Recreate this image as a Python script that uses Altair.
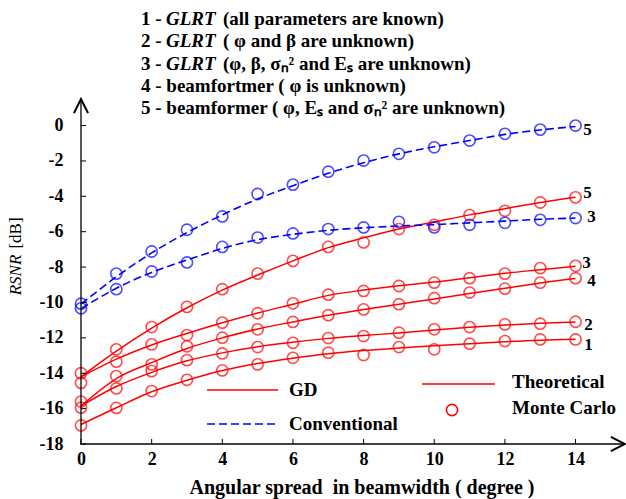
import altair as alt
import pandas as pd

# ---------------- data ----------------
XS = list(range(15))

# Theoretical curves (GD, red solid)
GD1_TH = [-16.9, -15.95, -15.05, -14.4, -13.85, -13.45, -13.15, -12.9, -12.72, -12.58, -12.45, -12.33, -12.22, -12.13, -12.08]
GD2_TH = [-15.85, -14.75, -13.95, -13.3, -12.85, -12.5, -12.25, -12.03, -11.87, -11.72, -11.55, -11.4, -11.28, -11.18, -11.1]
GD3_TH = [-14.2, -13.2, -12.4, -11.75, -11.15, -10.6, -10.1, -9.6, -9.3, -9.05, -8.85, -8.6, -8.35, -8.15, -7.95]
GD4_TH = [-15.85, -14.3, -13.4, -12.6, -12.0, -11.5, -11.1, -10.72, -10.4, -10.1, -9.8, -9.5, -9.2, -8.9, -8.65]
GD5_TH = [-14.2, -12.75, -11.45, -10.3, -9.3, -8.45, -7.65, -6.9, -6.35, -5.85, -5.45, -5.05, -4.7, -4.35, -4.05]
# Theoretical curves (Conventional, blue dashed)
CV3_TH = [-10.35, -9.2, -8.3, -7.6, -6.95, -6.45, -6.15, -5.92, -5.78, -5.68, -5.6, -5.5, -5.4, -5.3, -5.23]
CV5_TH = [-10.1, -8.55, -7.2, -6.05, -5.05, -4.15, -3.4, -2.7, -2.1, -1.6, -1.2, -0.85, -0.5, -0.25, -0.05]

# Monte Carlo points
GD1_MC = [-16.95, -15.96, -15.01, -14.37, -13.84, -13.5, -13.13, -12.84, -12.97, -12.52, -12.65, -12.33, -12.18, -12.09, -12.09]
GD2_MC = [-15.95, -14.86, -13.88, -13.26, -12.88, -12.52, -12.28, -12.01, -11.9, -11.71, -11.52, -11.39, -11.24, -11.2, -11.09]
GD3_MC = [-14.55, -13.35, -12.37, -11.84, -11.14, -10.61, -10.05, -9.56, -9.35, -9.07, -8.88, -8.63, -8.37, -8.06, -7.93]
GD4_MC = [-15.6, -14.16, -13.5, -12.48, -11.99, -11.52, -11.1, -10.72, -10.39, -10.1, -9.76, -9.44, -9.22, -8.88, -8.63]
GD5_MC = [-14.0, -12.65, -11.39, -10.25, -9.25, -8.37, -7.65, -6.86, -6.61, -5.85, -5.61, -5.06, -4.82, -4.35, -4.06]
CV3_MC = [-10.33, -9.25, -8.25, -7.74, -6.86, -6.33, -6.10, -5.85, -5.76, -5.44, -5.76, -5.61, -5.50, -5.33, -5.23]
CV5_MC = [-10.07, -8.37, -7.12, -5.89, -5.14, -3.87, -3.34, -2.61, -1.98, -1.60, -1.23, -0.85, -0.47, -0.23, 0.0]

X_TICKS = [0, 2, 4, 6, 8, 10, 12, 14]
Y_TICKS = [0, -2, -4, -6, -8, -10, -12, -14, -16, -18]

LEGEND_LINES = [
    ("1 - ", "GLRT", "(all parameters are known)"),
    ("2 - ", "GLRT", "( \u03c6 and \u03b2 are unknown)"),
    ("3 - ", "GLRT", "(\u03c6, \u03b2, \u03c3\u2099\u00b2  and E\u209b  are unknown)"),
    ("4 - beamfortmer ( \u03c6 is unknown)", "", ""),
    ("5 - beamformer ( \u03c6, E\u209b and \u03c3\u2099\u00b2 are unknown)", "", ""),
]

# ---------------- tables ----------------
series = [
    ("1", "GD", GD1_TH, GD1_MC),
    ("2", "GD", GD2_TH, GD2_MC),
    ("3", "GD", GD3_TH, GD3_MC),
    ("4", "GD", GD4_TH, GD4_MC),
    ("5", "GD", GD5_TH, GD5_MC),
    ("3c", "Conventional", CV3_TH, CV3_MC),
    ("5c", "Conventional", CV5_TH, CV5_MC),
]
rows_th, rows_mc = [], []
for name, meth, th, mc in series:
    for x, a, b in zip(XS, th, mc):
        rows_th.append({"x": x, "y": a, "curve": name, "method": meth})
        rows_mc.append({"x": x, "y": b, "curve": name, "method": meth})
df_th = pd.DataFrame(rows_th)
df_mc = pd.DataFrame(rows_mc)

RED = "#ff0000"
BLUE = "#0000ff"
SERIF = "Liberation Serif, Times New Roman, serif"
W, H = 544, 345
OX, OY = 81, 99  # view origin in page pixels

xs = alt.Scale(domain=[0, 15.4], nice=False, zero=False)
ys = alt.Scale(domain=[-18, 1.5], nice=False, zero=False)

x_axis = alt.Axis(values=X_TICKS, domain=False, ticks=False, grid=False, title=None,
                  labelFont=SERIF, labelFontWeight="bold", labelFontSize=18, labelColor="black",
                  labelPadding=6, labelFlush=False, labelOverlap=False)
y_axis = alt.Axis(values=Y_TICKS, domain=False, ticks=False, grid=False, title=None,
                  labelFont=SERIF, labelFontWeight="bold", labelFontSize=18, labelColor="black",
                  labelPadding=18, labelFlush=False, labelOverlap=False,
                  labelExpr="datum.value == 0 ? '0' : '-' + abs(datum.value)")


def XE(field="x"):
    return alt.X(f"{field}:Q", scale=xs, axis=x_axis)


def YE(field="y"):
    return alt.Y(f"{field}:Q", scale=ys, axis=y_axis)


gd_lines = alt.Chart(df_th[df_th.method == "GD"]).mark_line(
    color=RED, strokeWidth=1.5, interpolate="monotone").encode(x=XE(), y=YE(), detail="curve:N")
cv_lines = alt.Chart(df_th[df_th.method == "Conventional"]).mark_line(
    color=BLUE, strokeWidth=1.6, strokeDash=[8, 4], interpolate="monotone").encode(x=XE(), y=YE(), detail="curve:N")
pts = alt.Chart(df_mc).mark_point(shape="circle", filled=False, size=125, strokeWidth=1.6).encode(
    x=XE(), y=YE(),
    color=alt.Color("method:N", scale=alt.Scale(domain=["GD", "Conventional"], range=[RED, BLUE]), legend=None))

# axis lines, ticks and arrows
base = alt.Chart(pd.DataFrame({"d": [0]}))
x_line = base.mark_rule(color="black", strokeWidth=1.3).encode(x=alt.value(-1), x2=alt.value(W), y=alt.value(H))
y_line = base.mark_rule(color="black", strokeWidth=1.3).encode(x=alt.value(0), y=alt.value(0), y2=alt.value(H))
x_arrow = base.mark_point(shape="M-2,-1L0,0L-2,1", filled=False, size=200, strokeWidth=2, color="black",
                          opacity=1).encode(x=alt.value(W), y=alt.value(H))
y_arrow = base.mark_point(shape="M-1,2L0,0L1,2", filled=False, size=200, strokeWidth=2, color="black",
                          opacity=1).encode(x=alt.value(0), y=alt.value(0))
x_ticks = alt.Chart(pd.DataFrame({"t": X_TICKS})).mark_rule(color="black", strokeWidth=1).encode(
    x=XE("t"), y=alt.value(H), y2=alt.value(H - 5))
y_ticks = alt.Chart(pd.DataFrame({"t": Y_TICKS})).mark_rule(color="black", strokeWidth=1).encode(
    y=YE("t"), x=alt.value(0), x2=alt.value(5))

layers = [gd_lines, cv_lines, pts, x_line, y_line, x_arrow, y_arrow, x_ticks, y_ticks]


def txt(s, px, py, size=19, weight="bold", style="normal", align="left", angle=0, color="black"):
    kw = dict(text=s, font=SERIF, fontSize=size, fontWeight=weight, fontStyle=style,
              align=align, baseline="middle", color=color)
    if angle:
        kw["angle"] = angle
    return base.mark_text(**kw).encode(x=alt.value(px - OX), y=alt.value(py - OY))


# curve labels at the right end
lab_specs = [
    ("5", CV5_TH, 12, 4),
    ("5", GD5_TH, 12, -4),
    ("3", CV3_TH, 16, -1),
    ("3", GD3_TH, 11, -3),
    ("4", GD4_TH, 16, 2),
    ("2", GD2_TH, 13, 3),
    ("1", GD1_TH, 13, 6),
]
for lab, arr, dx, dy in lab_specs:
    d = pd.DataFrame({"x": [XS[-1]], "y": [arr[-1]]})
    layers.append(alt.Chart(d).mark_text(text=lab, font=SERIF, fontSize=17, fontWeight="bold",
                                         align="center", baseline="middle", dx=dx, dy=dy, color="black")
                  .encode(x=XE(), y=YE()))

# top legend block
for i, (a, b, c) in enumerate(LEGEND_LINES):
    py = 19 + 22.3 * i
    layers.append(txt(a, 141, py))
    if b:
        layers.append(txt(b, 166, py, style="italic"))
        layers.append(txt(c, 223, py))

# bottom legend
layers.append(base.mark_rule(color=RED, strokeWidth=1.5).encode(
    x=alt.value(207 - OX), x2=alt.value(278 - OX), y=alt.value(390 - OY)))
layers.append(txt("GD", 289, 390))
layers.append(base.mark_rule(color=BLUE, strokeWidth=1.6, strokeDash=[8, 4]).encode(
    x=alt.value(207 - OX), x2=alt.value(278 - OX), y=alt.value(424 - OY)))
layers.append(txt("Conventional", 289, 424))
layers.append(base.mark_rule(color=RED, strokeWidth=1.5).encode(
    x=alt.value(422 - OX), x2=alt.value(495 - OX), y=alt.value(384 - OY)))
layers.append(txt("Theoretical", 512, 382))
layers.append(base.mark_point(shape="circle", filled=False, size=125, strokeWidth=1.6, color=RED, opacity=1)
              .encode(x=alt.value(452 - OX), y=alt.value(410 - OY)))
layers.append(txt("Monte Carlo", 512, 408))

# axis titles
layers.append(txt("Angular spread\u00a0 in beamwidth ( degree )", 362, 488, size=20, align="center"))
layers.append(txt("RSNR", 16, 275, size=17, weight="normal", style="italic", align="center", angle=270))
layers.append(txt("[dB]", 16, 233, size=17, weight="normal", align="center", angle=270))

chart = alt.layer(*layers).properties(
    width=W, height=H,
    autosize=alt.AutoSizeParams(type="none"),
    padding={"left": OX, "top": OY, "right": 626 - OX - W, "bottom": 499 - OY - H},
    background="white",
).configure_view(stroke=None)

chart.save("out.html", embed_options={"renderer": "svg", "actions": False})
